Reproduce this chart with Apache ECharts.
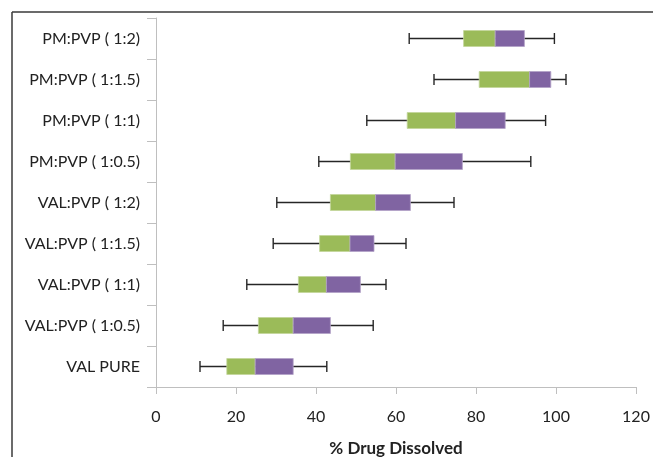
<!DOCTYPE html>
<html>
<head>
<meta charset="utf-8">
<script src="https://cdn.jsdelivr.net/npm/echarts@6/dist/echarts.min.js"></script>
<style>html,body{margin:0;padding:0;background:#fff;}#c{width:653px;height:457px;}</style>
</head>
<body>
<div id="c"></div>
<script>
// Categories listed top to bottom
var categories = ['PM:PVP ( 1:2)', 'PM:PVP ( 1:1.5)', 'PM:PVP ( 1:1)', 'PM:PVP ( 1:0.5)', 'VAL:PVP ( 1:2)', 'VAL:PVP ( 1:1.5)', 'VAL:PVP ( 1:1)', 'VAL:PVP ( 1:0.5)', 'VAL PURE'];
var minValues    = [63.3, 69.5, 52.7, 40.7, 30.2, 29.3, 22.7, 16.8, 11.0];
var q1Values     = [76.9, 80.8, 62.8, 48.6, 43.6, 40.9, 35.6, 25.6, 17.7];
var medianValues = [84.8, 93.4, 74.9, 59.8, 54.9, 48.5, 42.6, 34.3, 24.8];
var q3Values     = [92.1, 98.7, 87.3, 76.6, 63.6, 54.5, 51.1, 43.6, 34.3];
var maxValues    = [99.6, 102.5, 97.4, 93.7, 74.5, 62.5, 57.5, 54.3, 42.7];
var xTicks = [0, 20, 40, 60, 80, 100, 120];

var data = categories.map(function (c, i) {
  return [i, minValues[i], q1Values[i], medianValues[i], q3Values[i], maxValues[i]];
});

var chart = echarts.init(document.getElementById('c'), null, {renderer: 'canvas'});
var font = 'Lato, "Open Sans", sans-serif';
var textColor = '#222222';
chart.setOption({
  animation: false,
  backgroundColor: '#ffffff',
  grid: {left: 156, right: 17, top: 18, bottom: 70, containLabel: false, outerBoundsMode: 'none'},
  xAxis: {
    type: 'value',
    min: xTicks[0], max: xTicks[xTicks.length - 1], interval: 20,
    splitLine: {show: false},
    axisLine: {show: true, lineStyle: {color: '#bfbfbf', width: 1}},
    axisTick: {show: true, length: 7, lineStyle: {color: '#bfbfbf'}},
    axisLabel: {color: textColor, fontSize: 16, fontFamily: font, margin: 22},
    name: '% Drug Dissolved',
    nameLocation: 'middle',
    nameGap: 53,
    nameTextStyle: {color: textColor, fontSize: 17, fontWeight: 'bold', fontFamily: font}
  },
  yAxis: {
    type: 'category',
    data: categories,
    inverse: true,
    boundaryGap: true,
    axisLine: {show: true, lineStyle: {color: '#bfbfbf', width: 1}},
    axisTick: {show: true, length: 9, lineStyle: {color: '#bfbfbf'}},
    axisLabel: {color: textColor, fontSize: 16, fontFamily: font, margin: 16},
    splitLine: {show: false}
  },
  graphic: [
    {type: 'line', shape: {x1: 12, y1: 12, x2: 653, y2: 12}, style: {stroke: '#3a3a3a', lineWidth: 1.5}},
    {type: 'line', shape: {x1: 12, y1: 12, x2: 12, y2: 457}, style: {stroke: '#3a3a3a', lineWidth: 1.5}}
  ],
  series: [{
    type: 'custom',
    data: data,
    encode: {y: 0, x: [1, 2, 3, 4, 5]},
    renderItem: function (params, api) {
      var cat = api.value(0);
      var pMin = api.coord([api.value(1), cat]);
      var pQ1 = api.coord([api.value(2), cat]);
      var pMed = api.coord([api.value(3), cat]);
      var pQ3 = api.coord([api.value(4), cat]);
      var pMax = api.coord([api.value(5), cat]);
      var y = pMin[1];
      var bh = 16, ch = 11;
      var lineStyle = {stroke: '#262626', lineWidth: 1.4};
      return {
        type: 'group',
        children: [
          {type: 'line', shape: {x1: pMin[0], y1: y, x2: pMax[0], y2: y}, style: lineStyle},
          {type: 'line', shape: {x1: pMin[0], y1: y - ch / 2, x2: pMin[0], y2: y + ch / 2}, style: lineStyle},
          {type: 'line', shape: {x1: pMax[0], y1: y - ch / 2, x2: pMax[0], y2: y + ch / 2}, style: lineStyle},
          {type: 'rect', shape: {x: pQ1[0], y: y - bh / 2, width: pMed[0] - pQ1[0], height: bh},
            style: {fill: '#9bbb59', stroke: '#c3d69b', lineWidth: 0.8}},
          {type: 'rect', shape: {x: pMed[0], y: y - bh / 2, width: pQ3[0] - pMed[0], height: bh},
            style: {fill: '#8064a2', stroke: '#b3a2c7', lineWidth: 0.8}}
        ]
      };
    }
  }]
});
</script>
</body>
</html>
